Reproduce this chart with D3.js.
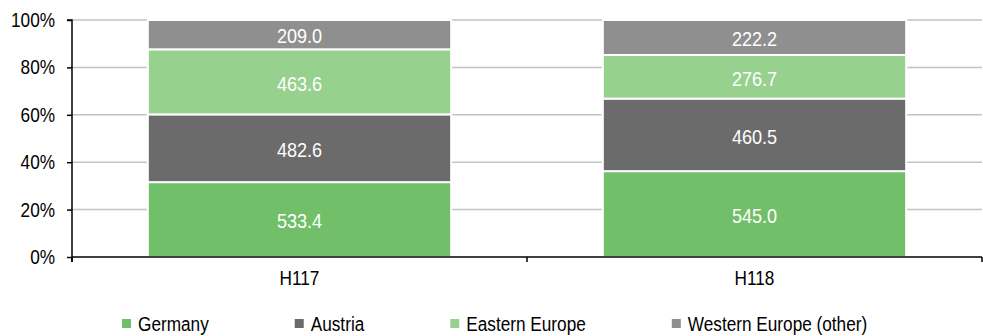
<!DOCTYPE html>
<html>
<head>
<meta charset="utf-8">
<script src="https://cdn.jsdelivr.net/npm/d3@7"></script>
<style>
  body { margin: 0; background: #fff; }
  text { font-family: "Liberation Sans Narrow", "Arial Narrow", "Liberation Sans", Arial, sans-serif; }
</style>
</head>
<body>
<div id="main"></div>
<script>
var categories = ["H117", "H118"];
var seriesNames = ["Germany", "Austria", "Eastern Europe", "Western Europe (other)"];
var germany = [533.4, 545.0];
var austria = [482.6, 460.5];
var easternEurope = [463.6, 276.7];
var westernEurope = [209.0, 222.2];
var yTicks = [0, 0.2, 0.4, 0.6, 0.8, 1];

var colors = ["#72bf6a", "#6b6b6b", "#97d18e", "#8f8f8f"];

var width = 983, height = 336;
var margin = {top: 20, right: 1, bottom: 79, left: 72};
var plotW = width - margin.left - margin.right,
    plotH = height - margin.top - margin.bottom;

var squeeze = 0.86; // no narrow font installed, compress glyphs instead

var narrow = function(sel) {
  sel.each(function() {
    var len = this.getComputedTextLength();
    d3.select(this)
      .attr("textLength", len * squeeze)
      .attr("lengthAdjust", "spacingAndGlyphs");
  });
};

// build rows for the stack
var seriesValues = [germany, austria, easternEurope, westernEurope];
var rows = categories.map(function(c, i) {
  var r = {cat: c};
  seriesNames.forEach(function(s, j) { r[s] = seriesValues[j][i]; });
  return r;
});

var stack = d3.stack().keys(seriesNames).offset(d3.stackOffsetExpand);
var layers = stack(rows);

var svg = d3.select("#main").append("svg")
    .attr("width", width)
    .attr("height", height);

var g = svg.append("g")
    .attr("transform", "translate(" + margin.left + "," + margin.top + ")");

var x = d3.scaleBand()
    .domain(categories)
    .range([0, plotW])
    .paddingInner(1/3)
    .paddingOuter(1/6);

var y = d3.scaleLinear()
    .domain([0, 1])
    .range([plotH, 0]);

// gridlines
g.append("g").selectAll("line")
    .data(yTicks.filter(function(d) { return d > 0; }))
    .enter().append("line")
    .attr("x1", 0)
    .attr("x2", plotW)
    .attr("y1", function(d) { return y(d); })
    .attr("y2", function(d) { return y(d); })
    .attr("stroke", "#c3c3c3")
    .attr("stroke-width", 1.5);

// bars
var layer = g.selectAll(".layer")
    .data(layers)
    .enter().append("g")
    .attr("class", "layer")
    .attr("fill", function(d, i) { return colors[i]; });

layer.selectAll("rect")
    .data(function(d) { return d; })
    .enter().append("rect")
    .attr("x", function(d) { return x(d.data.cat); })
    .attr("width", x.bandwidth())
    .attr("y", function(d) { return y(d[1]); })
    .attr("height", function(d) { return y(d[0]) - y(d[1]); })
    .attr("stroke", "#fff")
    .attr("stroke-width", 2);

// value labels
var fmt = d3.format(".1f");
layers.forEach(function(l) {
  g.append("g").selectAll("text")
    .data(l)
    .enter().append("text")
    .attr("x", function(d) { return x(d.data.cat) + x.bandwidth() / 2; })
    .attr("y", function(d) { return (y(d[0]) + y(d[1])) / 2; })
    .attr("dy", "0.42em")
    .attr("text-anchor", "middle")
    .attr("fill", "#fff")
    .style("font-size", "21px")
    .text(function(d) { return fmt(d.data[l.key]); })
    .call(narrow);
});

// axes
var yAxis = d3.axisLeft(y)
    .tickValues(yTicks)
    .tickFormat(d3.format(".0%"))
    .tickSize(5)
    .tickPadding(12);

var yg = g.append("g").call(yAxis);
yg.select(".domain").attr("stroke", "#000").attr("stroke-width", 1.5)
    .attr("d", "M-5,0H0V" + (plotH + 5));
yg.selectAll(".tick line").attr("stroke", "#000").attr("stroke-width", 1.5);
yg.selectAll(".tick text").style("font-size", "20px").attr("fill", "#000").call(narrow);

var xAxis = d3.axisBottom(x).tickSize(0).tickPadding(14);
var xg = g.append("g")
    .attr("transform", "translate(0," + plotH + ")")
    .call(xAxis);
xg.select(".domain").attr("stroke", "#000").attr("stroke-width", 1.5)
    .attr("d", "M0,0H" + plotW);
xg.selectAll(".tick text").style("font-size", "20px").attr("fill", "#000").call(narrow);

// category boundary ticks
xg.append("g").selectAll("line")
    .data(d3.range(categories.length + 1))
    .enter().append("line")
    .attr("x1", function(i) { return i * x.step(); })
    .attr("x2", function(i) { return i * x.step(); })
    .attr("y1", 0)
    .attr("y2", 5)
    .attr("stroke", "#000")
    .attr("stroke-width", 1.5);

// legend
var legend = svg.append("g").attr("transform", "translate(122,318)");
var lx = 0;
seriesNames.forEach(function(s, i) {
  var item = legend.append("g").attr("transform", "translate(" + lx + ",0)");
  item.append("rect")
      .attr("width", 9).attr("height", 9)
      .attr("y", 1)
      .attr("fill", colors[i]);
  var t = item.append("text")
      .attr("x", 16)
      .attr("y", 13)
      .style("font-size", "20px")
      .attr("fill", "#000")
      .text(s)
      .call(narrow);
  lx += 16 + (+t.attr("textLength")) + 86;
});
</script>
</body>
</html>
